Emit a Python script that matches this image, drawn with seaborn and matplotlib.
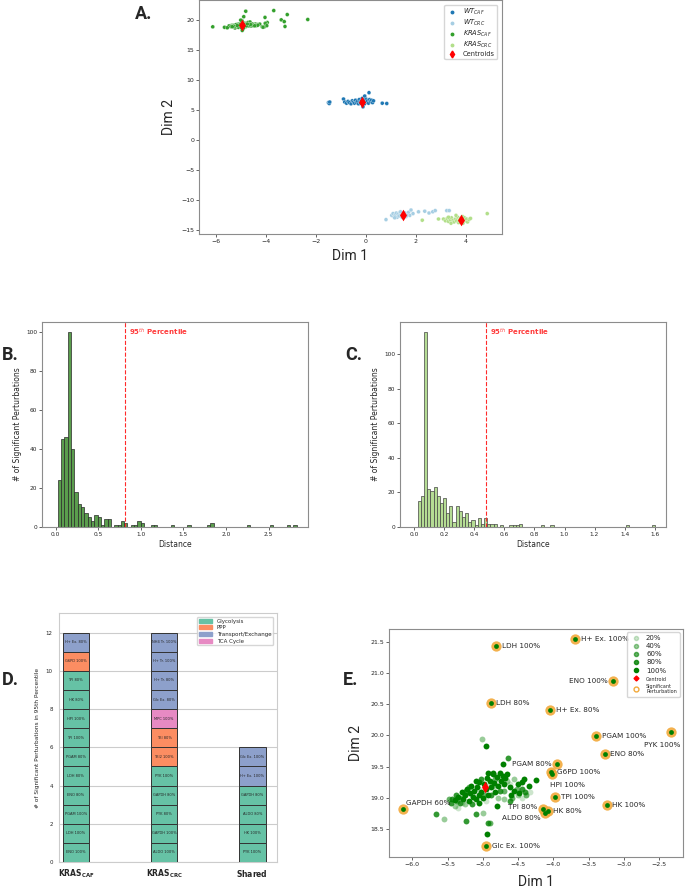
import numpy as np
import pandas as pd
import matplotlib
matplotlib.use('Agg')
import matplotlib.pyplot as plt
from matplotlib.patches import Patch
from matplotlib.lines import Line2D
import seaborn as sns

# ---------------- panel A data ----------------
wt_caf_x = [-1.50, -1.47, -1.45, -0.90, -0.85, -0.78, -0.72, -0.66, -0.60, -0.55,
            -0.50, -0.46, -0.42, -0.38, -0.34, -0.30, -0.27, -0.24, -0.21, -0.18,
            -0.15, -0.12, -0.09, -0.06, -0.03, 0.00, 0.03, 0.06, 0.10, 0.14,
            0.18, 0.22, 0.26, 0.30, 0.12, -0.05, -0.12, 0.65, 0.83]
wt_caf_y = [6.2, 6.05, 6.3, 6.8, 6.3, 6.1, 6.4, 6.2, 6.0, 6.5,
            6.3, 6.1, 6.6, 6.2, 6.4, 6.0, 6.7, 6.3, 6.1, 6.5,
            6.9, 6.2, 6.6, 6.0, 6.4, 6.8, 6.3, 6.5, 6.1, 6.7,
            6.4, 6.6, 6.2, 6.5, 7.85, 7.3, 5.5, 6.1, 6.05]
wt_crc_x = [0.80, 1.03, 1.08, 1.12, 1.17, 1.21, 1.25, 1.28, 1.32, 1.36,
            1.40, 1.44, 1.48, 1.52, 1.56, 1.60, 1.65, 1.70, 1.75, 1.80,
            1.88, 2.10, 2.35, 2.52, 2.67, 2.77, 3.23, 3.33, 1.15, 1.38, 1.62]
wt_crc_y = [-13.3, -12.6, -12.3, -12.8, -12.5, -12.2, -12.9, -12.4, -12.7, -12.1,
            -12.5, -12.9, -12.3, -12.6, -12.2, -12.8, -12.4, -12.1, -12.6, -11.7,
            -12.3, -12.0, -11.9, -12.2, -12.0, -11.8, -11.8, -11.8, -13.0, -12.0, -12.6]
kras_crc_x = [2.25, 2.90, 3.10, 3.18, 3.25, 3.30, 3.36, 3.42, 3.48, 3.52,
              3.58, 3.62, 3.66, 3.70, 3.74, 3.78, 3.82, 3.86, 3.90, 3.94,
              3.98, 4.02, 4.06, 4.12, 4.18, 3.40, 3.60, 3.88, 4.85, 3.30, 3.72]
kras_crc_y = [-13.4, -13.2, -13.2, -13.5, -13.1, -13.6, -13.3, -13.0, -13.4, -13.7,
              -13.2, -13.5, -12.9, -13.8, -13.3, -13.1, -13.6, -12.8, -13.4, -13.0,
              -13.5, -13.2, -13.7, -13.3, -13.1, -13.9, -12.6, -13.9, -12.3, -12.9, -13.5]
centroid_x = [-0.17, 1.46, -4.97, 3.78]
centroid_y = [6.35, -12.5, 19.2, -13.3]

# ---------------- panel E data (zoom on KRAS_CAF) ----------------
pts_100 = [(-5.40, 18.97), (-5.35, 19.02), (-5.30, 19.10), (-5.28, 18.98), (-5.25, 19.05),
           (-5.22, 19.15), (-5.20, 18.95), (-5.18, 19.08), (-5.16, 19.20), (-5.14, 19.02),
           (-5.12, 19.12), (-5.10, 18.98), (-5.08, 19.18), (-5.06, 19.05), (-5.05, 19.25),
           (-5.03, 19.10), (-5.00, 19.00), (-4.98, 19.22), (-4.96, 19.14), (-4.94, 19.32),
           (-4.92, 19.05), (-4.90, 19.28), (-4.88, 19.18), (-4.86, 19.38), (-4.84, 19.24),
           (-4.82, 19.10), (-4.80, 19.34), (-4.78, 19.20), (-4.76, 19.40), (-4.74, 19.28),
           (-4.72, 19.36), (-4.70, 19.22), (-4.68, 19.32), (-4.65, 19.38), (-4.62, 19.18),
           (-4.55, 19.12), (-4.50, 19.22), (-4.45, 19.25), (-4.42, 19.30), (-4.35, 19.20),
           (-4.92, 19.40), (-4.85, 19.40), (-4.72, 19.55), (-4.96, 19.83), (-4.25, 19.29),
           (-4.94, 18.42), (-4.80, 18.88), (-5.10, 19.28), (-5.05, 18.92), (-4.60, 19.05),
           (-4.48, 19.08)]
pts_80 = [(-5.45, 18.93), (-5.38, 19.05), (-5.32, 18.92), (-5.24, 19.12), (-5.15, 18.90),
          (-5.02, 19.30), (-4.88, 19.05), (-4.75, 19.12), (-4.61, 18.95), (-4.40, 19.10),
          (-5.24, 18.63), (-4.93, 18.61), (-5.10, 18.74), (-5.66, 18.75), (-4.64, 19.64),
          (-5.44, 18.99), (-4.45, 19.15)]
pts_60 = [(-5.48, 18.98), (-5.36, 18.95), (-5.20, 19.18), (-4.98, 19.05), (-4.82, 19.30),
          (-4.70, 19.12), (-4.52, 19.15), (-4.38, 19.05), (-4.58, 19.00), (-5.30, 19.00),
          (-4.90, 18.60)]
pts_40 = [(-5.55, 18.67), (-5.00, 18.76), (-5.01, 19.95), (-4.85, 19.20), (-4.66, 19.28),
          (-4.55, 19.30), (-4.70, 18.98), (-5.25, 18.90), (-4.50, 19.05), (-4.78, 19.00),
          (-5.40, 18.88)]
pts_20 = [(-5.30, 18.92), (-5.05, 19.15), (-4.90, 19.22), (-4.62, 19.22), (-4.33, 19.10),
          (-5.15, 19.05), (-4.75, 19.30), (-4.95, 18.95), (-4.45, 19.00), (-5.35, 18.85)]
levels = ['20%', '40%', '60%', '80%', '100%']

sig_labels = ['LDH 100%', 'H+ Ex. 100%', 'ENO 100%', 'LDH 80%', 'H+ Ex. 80%', 'PGAM 100%',
              'PYK 100%', 'ENO 80%', 'PGAM 80%', 'G6PD 100%', 'HPI 100%', 'TPI 100%',
              'HK 100%', 'TPI 80%', 'HK 80%', 'ALDO 80%', 'GAPDH 60%', 'Glc Ex. 100%']
sig_x = [-4.81, -3.69, -3.15, -4.89, -4.04, -3.39, -2.33, -3.27, -3.95, -4.03, -4.02,
         -3.97, -3.24, -4.15, -4.08, -4.12, -6.13, -4.95]
sig_y = [21.43, 21.54, 20.87, 20.52, 20.40, 19.99, 20.05, 19.70, 19.55, 19.41, 19.38,
         19.02, 18.89, 18.83, 18.80, 18.77, 18.83, 18.23]
e_centroid = (-4.97, 19.17)

# ---------------- panels B / C data ----------------
b_counts = [24, 45, 46, 100, 40, 18, 12, 10, 7, 5, 3, 6, 5, 1, 4, 4,
            0, 1, 1, 3, 2, 0, 1, 1, 3, 2, 0, 0, 1, 1,
            0, 0, 0, 0, 1, 0, 0, 0, 0, 1, 0, 0, 0, 0, 0, 1, 2,
            0, 0, 0, 0, 0, 0, 0, 0, 0, 0, 1, 0, 0, 0, 0, 0, 0, 1, 0, 0, 0, 0, 1, 0, 1]
b_range = (0.027, 2.83)
b_p95 = 0.82
c_counts = [15, 18, 113, 22, 21, 23, 18, 14, 17, 8, 12, 3, 12, 9, 6, 8, 3, 4, 1, 5, 2, 5, 2, 2, 2,
            0, 1, 0, 0, 1, 1, 1, 2, 0, 0, 0, 0, 0, 0, 1, 0, 0, 1,
            0, 0, 0, 0, 0, 0, 0, 0, 0, 0, 0, 0, 0, 0, 0, 0, 0, 0, 0, 0, 0, 0, 0,
            1, 0, 0, 0, 0, 0, 0, 0, 1]
c_range = (0.022, 1.601)
c_p95 = 0.479

# ---------------- panel D data ----------------
d_groups = [r'$\mathbf{KRAS_{CAF}}$', r'$\mathbf{KRAS_{CRC}}$', r'$\mathbf{Shared}$']
caf_labels = ['ENO 100%', 'LDH 100%', 'PGAM 100%', 'ENO 80%', 'LDH 80%', 'PGAM 80%',
              'TPI 100%', 'HPI 100%', 'HK 80%', 'TPI 80%', 'G6PD 100%', 'H+ Ex. 80%']
caf_paths = ['Glycolysis'] * 10 + ['PPP', 'Transport/Exchange']
crc_labels = ['ALDO 100%', 'GAPDH 100%', 'PYK 80%', 'GAPDH 80%', 'PYK 100%', 'TKI2 100%',
              'TKI 80%', 'MPC 100%', 'Glc Ex. 80%', 'H+ Tr. 80%', 'H+ Tr. 100%', 'NH4 Tr. 100%']
crc_paths = ['Glycolysis'] * 5 + ['PPP', 'PPP', 'TCA Cycle'] + ['Transport/Exchange'] * 4
shared_labels = ['PYK 100%', 'HK 100%', 'ALDO 80%', 'GAPDH 80%', 'H+ Ex. 100%', 'Glc Ex. 100%']
shared_paths = ['Glycolysis'] * 4 + ['Transport/Exchange'] * 2
pathways = ['Glycolysis', 'PPP', 'Transport/Exchange', 'TCA Cycle']

# ---------------- figure ----------------
sns.set_style('white')
plt.rcParams['font.family'] = ['DejaVu Sans']
fig = plt.figure(figsize=(6.85, 8.89), dpi=100)
W, H = 685, 889


def rect(l, t, r, b):
    return [l / W, 1 - b / H, (r - l) / W, (b - t) / H]


def grey_spines(ax):
    for s in ax.spines.values():
        s.set_color('#8c8c8c')
        s.set_linewidth(0.8)


paired = sns.color_palette('Paired')
grp_names = [r'$WT_{CAF}$', r'$WT_{CRC}$', r'$KRAS_{CAF}$', r'$KRAS_{CRC}$']
grp_colors = [paired[1], paired[0], paired[3], paired[2]]

# ---- A ----
axA = fig.add_axes(rect(199, 0, 502, 234))
kras_caf_pts = pts_100 + pts_80 + pts_60 + pts_40 + pts_20 + list(zip(sig_x, sig_y))
dfA = pd.concat([
    pd.DataFrame({'x': wt_caf_x, 'y': wt_caf_y, 'g': grp_names[0]}),
    pd.DataFrame({'x': wt_crc_x, 'y': wt_crc_y, 'g': grp_names[1]}),
    pd.DataFrame({'x': [p[0] for p in kras_caf_pts], 'y': [p[1] for p in kras_caf_pts], 'g': grp_names[2]}),
    pd.DataFrame({'x': kras_crc_x, 'y': kras_crc_y, 'g': grp_names[3]}),
])
sns.scatterplot(data=dfA, x='x', y='y', hue='g', hue_order=grp_names, palette=grp_colors,
                s=8, linewidth=0.2, ax=axA, legend=False)
sns.scatterplot(x=centroid_x, y=centroid_y, color='red', marker='d', s=35, linewidth=0, ax=axA)
axA.set_xlim(-6.68, 5.44)
axA.set_ylim(-15.7, 23.3)
axA.set_xticks([-6, -4, -2, 0, 2, 4])
axA.set_yticks([-15, -10, -5, 0, 5, 10, 15, 20])
axA.tick_params(labelsize=4.5, length=2, width=0.5, pad=1.5, left=True, bottom=True)
axA.set_xlabel('Dim 1', fontsize=10, family='Roboto', labelpad=4)
axA.set_ylabel('Dim 2', fontsize=10, family='Roboto', labelpad=4)
grey_spines(axA)
hA = [Line2D([], [], marker='o', ls='', color=c, markersize=1.8) for c in grp_colors]
hA.append(Line2D([], [], marker='d', ls='', color='red', markersize=3.5))
axA.legend(hA, grp_names + ['Centroids'], loc='upper right', fontsize=4.8,
           frameon=True, handletextpad=0.8, borderpad=0.35, labelspacing=0.12,
           handlelength=1.6, bbox_to_anchor=(0.995, 0.995))

# ---- B & C ----
for rc, counts, rng, p95, color, edge in [
        (rect(42, 322, 308, 527), b_counts, b_range, b_p95, '#5a9d4d', '#2a2a2a'),
        (rect(400, 322, 666, 527), c_counts, c_range, c_p95, '#b5dc94', '#444444')]:
    ax = fig.add_axes(rc)
    width = (rng[1] - rng[0]) / len(counts)
    centers = [rng[0] + (i + 0.5) * width for i in range(len(counts))]
    hist_df = pd.DataFrame({'distance': centers, 'n': counts})
    sns.histplot(data=hist_df, x='distance', weights='n', bins=len(counts), binrange=rng,
                 color=color, alpha=1, edgecolor=edge, linewidth=0.5, ax=ax)
    ax.axvline(p95, color='#ff2a2a', ls='--', lw=0.8)
    ax.text(p95 + 0.015 * (rng[1] + 0.1), 0.955, r'95$^{th}$ Percentile', color='#ff3b3b',
            fontsize=5, fontweight='bold', transform=ax.get_xaxis_transform(), va='center')
    ax.set_xlim(rng[0] - 0.055 * rng[1] - 0.03, rng[1] * 1.047)
    ax.set_ylim(0, max(counts) * 1.05)
    ax.tick_params(labelsize=4.2, length=2, width=0.5, pad=1.5, left=True, bottom=True)
    ax.set_xlabel('Distance', fontsize=5.5, labelpad=2)
    ax.set_ylabel('# of Significant Perturbations', fontsize=5.5, labelpad=3)
    grey_spines(ax)

# ---- D ----
set2 = sns.color_palette('Set2')
path_colors = dict(zip(pathways, [set2[0], set2[1], set2[2], set2[3]]))
with sns.axes_style('whitegrid'):
    axD = fig.add_axes(rect(59, 613, 277, 862))
for gi, (labs, paths) in enumerate([(caf_labels, caf_paths), (crc_labels, crc_paths),
                                    (shared_labels, shared_paths)]):
    for j, (lab, p) in enumerate(zip(labs, paths)):
        axD.bar(gi, 1, bottom=j, width=0.3, color=path_colors[p], edgecolor='#333333',
                linewidth=0.7, zorder=3)
        axD.text(gi, j + 0.5, lab, ha='center', va='center', fontsize=2.6, zorder=4)
axD.set_xlim(-0.19, 2.28)
axD.set_ylim(0, 13.03)
axD.set_yticks(range(0, 13, 2))
axD.set_xticks([0, 1, 2])
axD.set_xticklabels(d_groups, fontsize=5.5)
axD.tick_params(axis='y', labelsize=4, pad=1)
axD.tick_params(axis='x', pad=0.5)
axD.xaxis.grid(False)
axD.set_ylabel('# of Significant Perturbations in 95th Percentile', fontsize=4.2, labelpad=4)
axD.legend([Patch(color=path_colors[p]) for p in pathways], pathways, loc='upper right',
           fontsize=4, frameon=True, handlelength=2.5, borderpad=0.3, labelspacing=0.3,
           bbox_to_anchor=(0.995, 0.995))

# ---- E ----
axE = fig.add_axes(rect(389, 629, 683, 857))
green = '#008000'
for lvl, pts in zip(levels, [pts_20, pts_40, pts_60, pts_80, pts_100]):
    a = int(lvl[:-1]) / 100
    sns.scatterplot(x=[p[0] for p in pts], y=[p[1] for p in pts], color=green, alpha=a,
                    s=18, linewidth=0, ax=axE)
sns.scatterplot(x=sig_x, y=sig_y, color='#f2a93b', alpha=0.9, s=55, linewidth=0, ax=axE)
sns.scatterplot(x=sig_x, y=sig_y, color=green, s=12, linewidth=0, ax=axE)
sns.scatterplot(x=[e_centroid[0]], y=[e_centroid[1]], color='red', marker='d', s=35,
                linewidth=0, ax=axE)
label_pos = {
    'ENO 100%': (-4, 0, 'right'), 'PGAM 80%': (-4, 0, 'right'), 'TPI 80%': (-4, 1, 'right'),
    'ALDO 80%': (-3, -4, 'right'), 'PYK 100%': (-6, -9, 'center'), 'HPI 100%': (-1, -8, 'left'),
    'GAPDH 60%': (2, 4, 'left'),
}
for lab, x, y in zip(sig_labels, sig_x, sig_y):
    dx, dy, ha = label_pos.get(lab, (4, 0, 'left'))
    axE.annotate(lab, (x, y), xytext=(dx, dy), textcoords='offset points', ha=ha,
                 va='center', fontsize=5.2)
axE.set_xlim(-6.33, -2.16)
axE.set_ylim(18.06, 21.70)
axE.set_xticks([-6.0, -5.5, -5.0, -4.5, -4.0, -3.5, -3.0, -2.5])
axE.set_yticks([18.5, 19.0, 19.5, 20.0, 20.5, 21.0, 21.5])
axE.set_xticklabels([f'{v:.1f}'.replace('-', '\u2212') for v in axE.get_xticks()])
axE.tick_params(labelsize=4.5, length=2, width=0.5, pad=1.5, left=True, bottom=True)
axE.set_xlabel('Dim 1', fontsize=10, family='Roboto', labelpad=6)
axE.set_ylabel('Dim 2', fontsize=10, family='Roboto', labelpad=5)
grey_spines(axE)
hE = [Line2D([], [], marker='o', ls='', color=green, alpha=int(l[:-1]) / 100, markersize=3)
      for l in levels]
hE.append(Line2D([], [], marker='D', ls='', color='red', markersize=2.5))
hE.append(Line2D([], [], marker='o', ls='', markerfacecolor='none', markeredgecolor='#f2a93b',
                 markersize=3.5))
legE = axE.legend(hE, levels + ['Centroid', 'Significant\nPerturbation'], loc='upper right',
                  fontsize=5, frameon=True, handletextpad=0.4, borderpad=0.4, labelspacing=0.3)
for t in legE.get_texts()[-2:]:
    t.set_fontsize(3.5)

# ---- panel letters ----
for letter, (px, py) in {'A.': (135, 14), 'B.': (2, 355), 'C.': (345, 355),
                         'D.': (2, 680), 'E.': (343, 680)}.items():
    fig.text(px / W, 1 - py / H, letter, fontsize=13, fontweight='bold', family='Roboto',
             va='center', ha='left')

fig.savefig('out.png', dpi=100)
